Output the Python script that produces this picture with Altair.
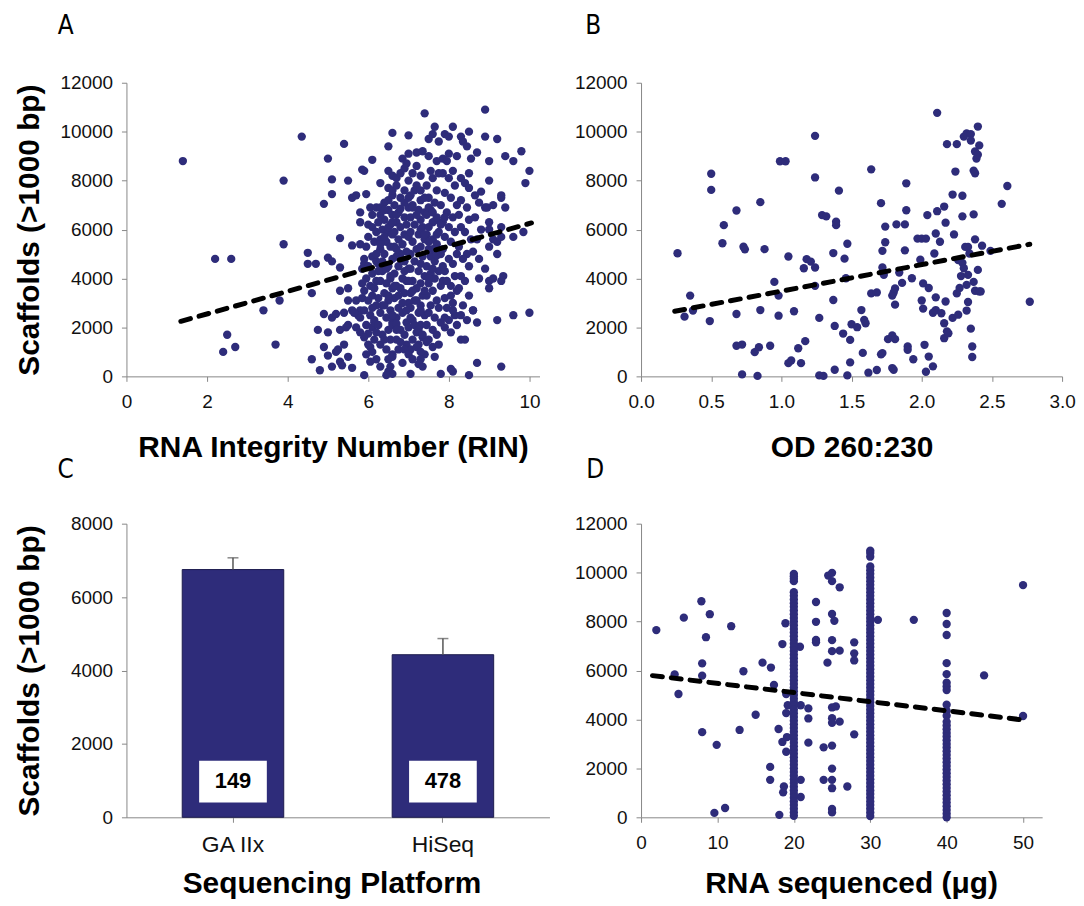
import altair as alt
import pandas as pd

# ------------------------------------------------------------------ data
# Panel A: RNA Integrity Number (RIN) vs scaffolds (>1000 bp)
rin_points = [
    (1.4, 8800), (2.2, 4800), (2.6, 4800), (2.5, 1700), (2.4, 1000), (2.7, 1200),
    (3.4, 2700), (3.7, 1300), (3.8, 3100), (3.9, 8000), (3.9, 5400), (4.35, 9800),
    (4.5, 5050), (4.5, 4600), (4.7, 4600), (4.6, 3400), (4.6, 700), (4.8, 250),
    (4.75, 1900), (4.9, 7050), (4.9, 2550), (4.9, 1200), (5.0, 8900), (5.0, 4850),
    (5.0, 1800), (5.0, 850), (5.1, 8050), (5.1, 7450), (5.1, 4700), (5.1, 2400),
    (5.1, 400), (5.2, 2550), (5.2, 1000), (5.3, 5650), (5.3, 4450), (5.3, 3500),
    (5.3, 1900), (5.3, 600), (5.35, 450), (5.4, 9500), (5.4, 2600), (5.4, 1300),
    (5.5, 8000), (5.5, 3600), (5.5, 3100), (5.5, 2100), (5.5, 800), (5.6, 7300),
    (5.6, 5350), (5.6, 2700), (5.6, 350), (5.7, 7400), (5.7, 3100), (5.7, 2000),
    (5.8, 6700), (5.8, 6300), (5.8, 5400), (5.8, 2700), (5.8, 2400), (5.8, 1800),
    (5.75, 2500), (5.85, 3200), (5.9, 4600), (5.45, 2000), (5.25, 1100), (5.65, 2600),
    # 5.8 - 6.2
    (6.1, 8850), (5.85, 8450), (5.9, 8400), (5.95, 7450), (6.05, 6900), (6.2, 6900),
    (6.1, 6600), (6.0, 6200), (6.1, 6100), (6.2, 5900), (6.0, 5700), (6.15, 5500),
    (5.95, 5300), (6.1, 4900), (5.9, 4800), (6.2, 4700), (6.0, 4500), (5.85, 4400),
    (6.1, 4200), (5.95, 4000), (6.2, 3900), (6.05, 3700), (5.9, 3500), (6.1, 3300),
    (6.0, 3100), (6.2, 2900), (5.9, 2700), (6.05, 2500), (6.15, 2300), (5.95, 2100),
    (6.1, 2000), (6.0, 1750), (5.9, 1600), (6.15, 1500), (6.05, 1200), (6.1, 1000),
    (6.2, 700), (5.9, 50), (6.15, 2200), (5.85, 3800),
    # 6.2 - 6.6
    (6.6, 9950), (6.5, 9400), (6.5, 8400), (6.6, 8200), (6.3, 7900), (6.5, 7700),
    (6.6, 7400), (6.4, 7100), (6.3, 6900), (6.5, 6800), (6.6, 6600), (6.4, 6400),
    (6.25, 6300), (6.55, 6200), (6.35, 6000), (6.5, 5900), (6.6, 5800), (6.3, 5600),
    (6.45, 5500), (6.55, 5300), (6.3, 5200), (6.4, 5000), (6.6, 4800), (6.25, 4600),
    (6.5, 4500), (6.35, 4300), (6.55, 4100), (6.3, 3900), (6.45, 3800), (6.6, 3600),
    (6.4, 3400), (6.25, 3200), (6.5, 3100), (6.35, 2900), (6.55, 2700), (6.3, 2600),
    (6.45, 2400), (6.6, 2200), (6.25, 2100), (6.5, 1900), (6.35, 1700), (6.55, 1500),
    (6.3, 1300), (6.45, 1100), (6.6, 900), (6.5, 700), (6.55, 400), (6.5, 200),
    (6.6, 100), (6.45, 50),
    # 6.6 - 7.0
    (7.0, 9100), (6.85, 8900), (6.95, 8700), (6.7, 8100), (6.9, 7600), (6.8, 7300),
    (6.65, 7000), (7.0, 6900), (6.75, 6700), (6.9, 6500), (6.7, 6300), (6.95, 6200),
    (6.8, 6100), (6.65, 5900), (6.9, 5800), (7.0, 5700), (6.75, 5600), (6.85, 5400),
    (6.65, 5300), (6.95, 5100), (6.8, 5000), (6.7, 4900), (6.9, 4700), (6.75, 4500),
    (7.0, 4400), (6.65, 4200), (6.85, 4000), (6.95, 3900), (6.7, 3700), (6.8, 3600),
    (6.9, 3400), (6.65, 3200), (7.0, 3000), (6.75, 2800), (6.85, 2600), (6.7, 2400),
    (6.95, 2200), (6.6, 2100), (6.8, 1900), (6.9, 1700), (6.7, 1500), (6.95, 1300),
    (6.75, 1100), (6.6, 800), (6.85, 550), (6.7, 2150),
    # 7.0 - 7.4
    (7.4, 10750), (7.0, 9850), (7.2, 9150), (7.35, 9200), (7.2, 8600), (7.3, 8200),
    (7.15, 7600), (7.05, 7400), (7.3, 7200), (7.1, 7000), (7.25, 6800), (7.4, 6700),
    (7.05, 6500), (7.3, 6400), (7.15, 6200), (7.35, 6100), (7.05, 5900), (7.25, 5800),
    (7.4, 5600), (7.1, 5500), (7.3, 5300), (7.2, 5200), (7.05, 5000), (7.35, 4900),
    (7.15, 4700), (7.3, 4600), (7.05, 4400), (7.25, 4300), (7.4, 4100), (7.1, 3900),
    (7.3, 3800), (7.2, 3600), (7.05, 3400), (7.35, 3300), (7.15, 3100), (7.3, 2900),
    (7.05, 2800), (7.25, 2600), (7.4, 2500), (7.1, 2300), (7.3, 2100), (7.0, 2000),
    (7.2, 1800), (7.35, 1600), (7.1, 1500), (7.25, 1300), (7.05, 1100), (7.4, 900),
    (7.3, 700), (7.25, 500), (7.35, 400), (7.05, 100),
    # 7.4 - 7.8
    (7.65, 10200), (7.6, 9900), (7.5, 9700), (7.75, 9600), (7.5, 9000), (7.7, 8800),
    (7.55, 8400), (7.75, 8300), (7.6, 8100), (7.45, 7800), (7.7, 7600), (7.5, 7300),
    (7.65, 7100), (7.8, 7000), (7.55, 6800), (7.45, 6600), (7.7, 6400), (7.6, 6300),
    (7.5, 6100), (7.75, 5900), (7.45, 5800), (7.6, 5600), (7.7, 5400), (7.5, 5200),
    (7.8, 5000), (7.55, 4900), (7.65, 4700), (7.45, 4500), (7.75, 4300), (7.55, 4200),
    (7.65, 4000), (7.5, 3800), (7.8, 3700), (7.6, 3500), (7.45, 3300), (7.7, 3100),
    (7.55, 2900), (7.75, 2800), (7.5, 2600), (7.65, 2400), (7.8, 2200), (7.45, 2100),
    (7.6, 1900), (7.7, 1700), (7.5, 1500), (7.75, 1300), (7.6, 1200), (7.65, 800),
    (7.8, 100),
    # 7.8 - 8.2
    (8.1, 10200), (7.9, 9900), (8.0, 9800), (8.0, 9100), (7.85, 8900), (7.95, 8800),
    (8.1, 8400), (7.85, 8300), (8.0, 8100), (8.15, 7800), (7.9, 7500), (8.05, 7300),
    (8.2, 7000), (7.95, 6700), (8.1, 6500), (7.85, 6300), (8.0, 6100), (8.15, 5900),
    (7.9, 5700), (8.05, 5500), (7.85, 5200), (8.2, 5000), (8.0, 4800), (8.1, 4600),
    (7.9, 4300), (8.15, 4100), (7.85, 3900), (8.05, 3700), (8.2, 3500), (7.9, 3200),
    (8.1, 3000), (7.95, 2800), (8.15, 2500), (8.0, 2300), (8.2, 2100), (7.9, 2000),
    (8.05, 1800), (8.1, 200), (8.05, 300),
    # 8.2 - 8.6
    (8.3, 9800), (8.35, 9600), (8.45, 9400), (8.2, 9000), (8.5, 8300), (8.3, 8100),
    (8.4, 7900), (8.5, 7700), (8.3, 7200), (8.45, 6900), (8.25, 6600), (8.5, 6400),
    (8.3, 6100), (8.4, 5900), (8.55, 5600), (8.25, 5300), (8.45, 5000), (8.35, 4800),
    (8.5, 4500), (8.3, 4100), (8.4, 3900), (8.25, 3600), (8.5, 3300), (8.35, 2900),
    (8.6, 2700), (8.3, 2500), (8.45, 2300), (8.3, 1500), (8.4, 1500), (8.5, 50),
    (8.5, 10000),
    # 8.6 - 10
    (8.7, 9150), (8.55, 8900), (8.8, 7550), (8.65, 7400), (8.75, 7100), (8.9, 6900),
    (8.65, 6500), (8.8, 6000), (8.7, 5600), (8.6, 5100), (8.75, 4800), (8.9, 4400),
    (8.75, 4000), (9.0, 3900), (8.6, 2700), (8.7, 2200), (8.7, 550), (8.9, 10900),
    (8.9, 9800), (9.2, 9700), (9.0, 8800), (9.0, 8000), (9.1, 7000), (8.95, 6900),
    (9.0, 6300), (9.0, 6000), (9.1, 5600), (9.0, 5300), (9.2, 5000), (9.1, 4000),
    (9.0, 3600), (9.3, 3900), (9.35, 4100), (9.2, 2300), (9.3, 400), (9.4, 9000),
    (9.6, 8800), (9.8, 9200), (9.9, 7900), (10.0, 8400), (9.3, 7300), (9.3, 7400),
    (9.3, 6100), (9.6, 5700), (9.85, 5900), (9.2, 5500), (9.6, 2500), (10.0, 2600),
    (9.4, 6900), (9.3, 5700),
    # dense core, extra
    (6.3, 5400), (6.4, 5700), (6.5, 6100), (6.6, 6300), (6.7, 6600), (6.8, 6850),
    (6.9, 7100), (7.0, 7300), (7.1, 6900), (7.2, 6600), (7.3, 6000), (7.4, 5800),
    (7.5, 5500), (7.6, 5200), (7.7, 4950), (6.35, 4700), (6.45, 4400), (6.55, 4000),
    (6.65, 3700), (6.75, 3300), (6.85, 3000), (6.95, 2700), (7.05, 2400), (7.15, 2100),
    (7.25, 1900), (7.35, 1700), (7.45, 1400), (6.7, 5200), (6.8, 4800), (6.9, 4300),
    (7.0, 3900), (7.1, 3500), (7.2, 3100), (7.3, 2700), (7.4, 3500), (7.5, 4000),
    (7.6, 4400), (7.7, 5800), (7.8, 6200), (7.9, 6500), (6.4, 2900), (6.5, 3300),
    (6.6, 2500), (6.7, 1900), (6.8, 1400), (6.9, 1100), (7.0, 900), (7.1, 700),
    (7.2, 1200), (7.3, 1000), (6.3, 6600), (6.4, 6800), (6.5, 7200), (6.6, 7600),
    (6.7, 7800), (6.8, 8300), (6.9, 8500), (7.0, 8000), (7.1, 8300), (7.2, 7800),
    (7.3, 7600), (7.4, 7300), (7.5, 6900), (7.6, 6700), (7.7, 6500), (6.2, 5000),
    (6.25, 4300), (6.15, 3600), (6.1, 2800), (6.2, 1800), (6.0, 1300), (5.95, 900),
    (6.05, 600), (6.3, 400), (6.4, 1500), (7.85, 4500), (7.95, 3900), (8.05, 3300),
    (8.1, 2700), (7.9, 2400),
]

# Panel B: OD 260:230 vs scaffolds
od_points = [
    (0.26, 5030), (0.31, 2440), (0.35, 3300), (0.37, 2690), (0.49, 2260), (0.5, 8280),
    (0.5, 7620), (0.58, 5440), (0.59, 6180), (0.68, 2550), (0.68, 6780), (0.68, 1250),
    (0.72, 1300), (0.73, 5300), (0.74, 5190), (0.72, 80), (0.81, 990), (0.83, 20),
    (0.84, 1190), (0.85, 7120), (0.85, 2710), (0.88, 5200), (0.92, 1250), (0.95, 3860),
    (0.98, 3300), (0.98, 2480), (0.99, 8790), (1.03, 8790), (1.05, 4900), (1.05, 540),
    (1.07, 650), (1.09, 2660), (1.12, 1150), (1.14, 540), (1.16, 4420), (1.17, 1440),
    (1.18, 4790), (1.21, 4690), (1.24, 4450), (1.24, 3700), (1.24, 9830), (1.24, 8130),
    (1.27, 40), (1.3, 20), (1.27, 2390), (1.29, 6590), (1.32, 6540), (1.37, 5040),
    (1.37, 3120), (1.38, 2060), (1.38, 270), (1.39, 6180), (1.39, 6320), (1.41, 7590),
    (1.44, 1750), (1.47, 5420), (1.45, 4810), (1.46, 4010), (1.47, 40), (1.49, 570),
    (1.49, 1490), (1.5, 2130), (1.54, 2010), (1.57, 2710), (1.58, 960), (1.59, 2310),
    (1.6, 2170), (1.62, 150), (1.64, 8460), (1.64, 3390), (1.68, 3430), (1.68, 260),
    (1.71, 7080), (1.71, 900), (1.72, 950), (1.72, 5130), (1.72, 4450), (1.73, 4150),
    (1.74, 6120), (1.74, 5480), (1.76, 1520), (1.79, 1670), (1.81, 1520), (1.79, 340),
    (1.8, 270), (1.79, 3300), (1.8, 3430), (1.81, 2930), (1.81, 3590), (1.82, 6210),
    (1.84, 4240), (1.88, 6210), (1.89, 7890), (1.86, 3820), (1.88, 5150), (1.89, 6790),
    (1.9, 1220), (1.9, 1085), (1.93, 4010), (1.94, 700), (1.97, 5630), (2.0, 5630),
    (2.03, 5630), (1.99, 4770), (2.0, 3100), (2.01, 2770), (2.01, 3800), (2.02, 1290),
    (2.03, 190), (2.05, 3610), (2.05, 810), (2.04, 6590), (2.08, 410), (2.08, 2600),
    (2.09, 5020), (2.1, 3230), (2.1, 5840), (2.1, 2710), (2.11, 6750), (2.13, 5500),
    (2.14, 2580), (2.16, 6940), (2.17, 6280), (2.16, 2170), (2.16, 1560), (2.17, 3060),
    (2.18, 9490), (2.18, 1840), (2.19, 1760), (2.22, 7430), (2.23, 5800), (2.22, 2390),
    (2.24, 8370), (2.25, 9490), (2.26, 2520), (2.25, 3390), (2.26, 4750), (2.27, 3610),
    (2.28, 4100), (2.29, 7380), (2.29, 6540), (2.29, 4640), (2.3, 4420), (2.3, 9800),
    (2.31, 5290), (2.32, 9930), (2.32, 3740), (2.33, 5290), (2.33, 3040), (2.32, 2690),
    (2.33, 4150), (2.34, 5020), (2.35, 9900), (2.35, 9640), (2.35, 1950), (2.36, 1220),
    (2.36, 790), (2.37, 3860), (2.37, 8410), (2.37, 6620), (2.38, 9190), (2.38, 8300),
    (2.38, 5600), (2.38, 3500), (2.39, 8900), (2.4, 10210), (2.4, 4350), (2.4, 9060),
    (2.41, 3470), (2.41, 9440), (2.42, 3470), (2.43, 5340), (2.49, 5130), (2.57, 7050),
    (2.61, 7780), (2.77, 3050), (2.11, 10770),
]

# Panel D: RNA sequenced (ug) vs scaffolds
rna_scatter_points = [
    (2, 7650), (4.4, 5840), (4.9, 5040), (5.6, 8160), (7.9, 8830), (8, 6290), (8, 5790),
    (8, 3480), (8.5, 7360), (9, 8300), (9.9, 2960), (9.6, 180), (11, 380), (11.8, 7810),
    (12.9, 3570), (13.4, 5970), (15, 4190), (15.9, 6320), (16.9, 2060), (16.9, 1530),
    (17, 6120), (17.4, 5410), (18, 3610), (18.1, 100), (18.5, 7080), (18.5, 3080),
    (18.6, 1020), (18.7, 1260), (18.9, 7930), (19, 5040), (19, 2680), (19, 4260),
    (19.1, 3280), (19.2, 4580), (20.8, 6970), (20.9, 4580), (20.9, 1530), (20.9, 830),
    (21.9, 4450), (21.9, 4040), (21.9, 3050), (22.9, 8800), (22.9, 7990), (22.9, 7250),
    (22.9, 7150), (23.9, 2860), (23.9, 1530), (24.4, 6320), (24.5, 9880), (25, 9990),
    (25, 9650), (25, 8310), (25, 7240), (25, 6790), (25, 4490), (25, 4050), (25, 3860),
    (25, 2930), (25, 1990), (25, 1530), (25, 1190), (25, 340), (25, 200), (25.3, 8030),
    (25.5, 4530), (26, 9400), (26, 6810), (26, 3910), (27, 1260), (27.9, 7150),
    (27.9, 6700), (27.9, 6410), (27.9, 3390), (31, 8070), (35.7, 8070), (44.9, 5800),
    (50, 9490), (50, 4140),
]
rna_20ug = [9950, 9850, 9750, 9650, 9200, 9050, 8900, 8750, 8600, 8450, 8300, 8150,
            8000, 7850, 7700, 7550, 7400, 7250, 7100, 6950, 6800, 6650, 6500, 6350,
            6200, 6050, 5900, 5750, 5600, 5450, 5300, 5150, 5000, 4850, 4700, 4550,
            4400, 4250, 4100, 3950, 3800, 3650, 3500, 3350, 3200, 3050, 2900, 2750,
            2600, 2450, 2300, 2150, 2000, 1850, 1700, 1550, 1400, 1250, 1100, 950,
            800, 650, 500, 350, 200, 60]
rna_30ug = [10900, 10800, 10650, 10250, 10100, 9950, 9800, 9650, 9500, 9350, 9200,
            9050, 8900, 8750, 8600, 8450, 8300, 8150, 8000, 7850, 7700, 7550, 7400,
            7250, 7100, 6950, 6800, 6650, 6500, 6350, 6200, 6050, 5900, 5750, 5600,
            5450, 5300, 5150, 5000, 4850, 4700, 4550, 4400, 4250, 4100, 3950, 3800,
            3650, 3500, 3350, 3200, 3050, 2900, 2750, 2600, 2450, 2300, 2150, 2000,
            1850, 1700, 1550, 1400, 1250, 1100, 950, 800, 650, 500, 350, 200, 50]
rna_40ug = [8350, 7900, 7450, 6300, 5850, 5500, 5350, 5200, 4600, 4350, 4150, 3900,
            3750, 3600, 3450, 3300, 3150, 3000, 2850, 2700, 2550, 2400, 2250, 2100,
            1950, 1800, 1650, 1500, 1350, 1200, 1050, 900, 750, 600, 450, 300, 150, 0]

# Panel C: sequencing platform
platforms = ["GA IIx", "HiSeq"]
platform_mean = [6750, 4430]
platform_err = [320, 440]
platform_n = ["149", "478"]

# Trend lines (end points)
trend_rin = [(1.35, 2250), (10.05, 6270)]
trend_od = [(0.24, 2660), (2.77, 5400)]
trend_rna = [(1.5, 5790), (50.2, 3970)]

ticks_12k = [0, 2000, 4000, 6000, 8000, 10000, 12000]
ticks_8k = [0, 2000, 4000, 6000, 8000]
ticks_rin = [0, 2, 4, 6, 8, 10]
ticks_od = [0.0, 0.5, 1.0, 1.5, 2.0, 2.5, 3.0]
ticks_rna = [0, 10, 20, 30, 40, 50]

# ------------------------------------------------------------------ style
NAVY = "#2e2c7a"
GRAY = "#878787"
FONT = "Liberation Sans"
LETTER_FONT = "Liberation Sans Narrow, DejaVu Sans Condensed, Liberation Sans, sans-serif"
YTITLE = "Scaffolds (>1000 bp)"
TITLE_SIZE = 30
LABEL_SIZE = 19


def x_axis(values, fmt, title, title_x=None, title_y=72):
    kw = dict(values=values, format=fmt, title=title, titleFont=FONT,
              titleFontSize=TITLE_SIZE, titleFontWeight="bold", titleColor="black",
              titleY=title_y, titleBaseline="middle", labelFont=FONT,
              labelFontSize=LABEL_SIZE, labelColor="#111111", labelPadding=11,
              labelFlush=False, labelOverlap=False, tickSize=5, tickColor=GRAY,
              domainColor=GRAY, grid=False)
    if title_x is not None:
        kw["titleX"] = title_x
    return alt.Axis(**kw)


def y_axis(values, title):
    kw = dict(values=values, format="d", labelFont=FONT, labelFontSize=LABEL_SIZE,
              labelColor="#111111", labelPadding=9, labelOverlap=False,
              tickSize=5, tickColor=GRAY, domainColor=GRAY, grid=False)
    if title:
        kw.update(title=title, titleFont=FONT, titleFontSize=TITLE_SIZE,
                  titleFontWeight="bold", titleColor="black", titleX=-97,
                  titleBaseline="middle")
    else:
        kw["title"] = None
    return alt.Axis(**kw)


def letter_layer(letter, dx, dy):
    return alt.Chart(pd.DataFrame({"t": [letter]})).mark_text(
        font=LETTER_FONT, fontSize=26, align="center", baseline="middle", color="black"
    ).encode(x=alt.value(dx), y=alt.value(dy), text="t:N")


def scatter_panel(df, xdomain, xticks, xfmt, xtitle, ytitle, trend, letter, ldx, ldy,
                  width, height, title_x=None, title_y=72, marker=False):
    xs = alt.Scale(domain=xdomain, nice=False, zero=False)
    ys = alt.Scale(domain=[0, 12000], nice=False)
    xax = x_axis(xticks, xfmt, xtitle, title_x=title_x, title_y=title_y)
    yax = y_axis(ticks_12k, ytitle)
    pts = alt.Chart(df).mark_circle(size=70, color=NAVY, opacity=1).encode(
        x=alt.X("x:Q", scale=xs, axis=xax), y=alt.Y("y:Q", scale=ys, axis=yax))
    tdf = pd.DataFrame(trend, columns=["x", "y"])
    tr = alt.Chart(tdf).mark_line(color="black", strokeWidth=5, strokeDash=[10, 9],
                                  strokeCap="round").encode(
        x=alt.X("x:Q", scale=xs, axis=xax), y=alt.Y("y:Q", scale=ys, axis=yax))
    layers = [pts, tr, letter_layer(letter, ldx, ldy)]
    if marker:
        layers.append(alt.Chart(pd.DataFrame({"t": [0]})).mark_rule(opacity=0).encode(
            x=alt.value(-119), x2=alt.value(-118), y=alt.value(-73), y2=alt.value(-72)))
    return alt.layer(*layers).properties(width=width, height=height)


df_a = pd.DataFrame(rin_points, columns=["x", "y"])
df_b = pd.DataFrame(od_points, columns=["x", "y"])
d_rows = list(rna_scatter_points) + [(20, v) for v in rna_20ug] + \
    [(30, v) for v in rna_30ug] + [(40, v) for v in rna_40ug]
df_d = pd.DataFrame(d_rows, columns=["x", "y"])

panel_a = scatter_panel(df_a, [0, 10.25], ticks_rin, "d", "RNA Integrity Number (RIN)",
                        YTITLE, trend_rin, "A", -61, -57, 415, 295, marker=True)
panel_b = scatter_panel(df_b, [0, 3], ticks_od, ".1f", "OD 260:230", None, trend_od,
                        "B", -48, -57, 423, 295)
panel_d = scatter_panel(df_d, [0, 52.5], ticks_rna, "d", "RNA sequenced (\u03bcg)", None,
                        trend_rna, "D", -46, -54, 403, 295, title_x=211, title_y=67)

# Panel C
df_c = pd.DataFrame({"platform": platforms, "mean": platform_mean,
                     "err": platform_err, "n": platform_n})
df_c["top"] = df_c["mean"] + df_c["err"]
xb_axis = alt.Axis(title="Sequencing Platform", titleFont=FONT, titleFontSize=TITLE_SIZE,
                   titleFontWeight="bold", titleColor="black", titleY=67, titleX=206,
                   titleBaseline="middle", labelFont=FONT, labelFontSize=23,
                   labelColor="#111111", labelPadding=11, labelAngle=0, tickSize=5,
                   tickColor=GRAY, domainColor=GRAY, grid=False)
xb = alt.X("platform:N", sort=platforms,
           scale=alt.Scale(paddingInner=0.517, paddingOuter=0.266), axis=xb_axis)
ysc = alt.Scale(domain=[0, 8000], nice=False)
yax_c = y_axis(ticks_8k, YTITLE)
bars = alt.Chart(df_c).mark_bar(size=102, color=NAVY, stroke="#1c1b4d",
                                strokeWidth=1).encode(
    x=xb, y=alt.Y("mean:Q", scale=ysc, axis=yax_c))
err = alt.Chart(df_c).mark_rule(color="#555555", strokeWidth=1.5).encode(
    x=xb, y=alt.Y("mean:Q", scale=ysc, axis=yax_c), y2="top:Q")
cap = alt.Chart(df_c).mark_tick(color="#555555", size=11, thickness=1.5).encode(
    x=xb, y=alt.Y("top:Q", scale=ysc, axis=yax_c))
box = alt.Chart(df_c).mark_bar(size=68, color="white").encode(
    x=xb, y=alt.datum(400), y2=alt.datum(1540))
txt = alt.Chart(df_c).mark_text(font=FONT, fontSize=22, fontWeight="bold",
                                color="black", baseline="middle").encode(
    x=xb, y=alt.datum(975), text="n:N")
panel_c = alt.layer(bars, err, cap, box, txt, letter_layer("C", -61, -54)).properties(
    width=425, height=295)

chart = alt.concat(panel_a, panel_b, panel_c, panel_d, columns=2,
                   spacing={"row": 148, "column": 92}, bounds="flush",
                   padding=0).configure_view(stroke=None)

chart.save("out.html", embed_options={"renderer": "svg", "actions": False})
